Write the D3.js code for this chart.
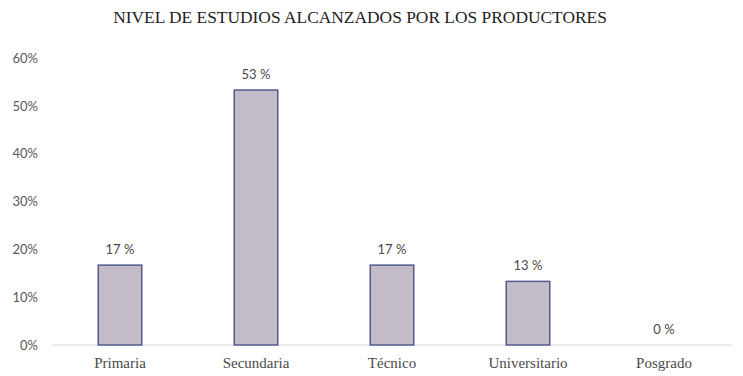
<!DOCTYPE html>
<html>
<head>
<meta charset="utf-8">
<script src="https://cdn.jsdelivr.net/npm/d3@7"></script>
<style>
  body { margin: 0; background: #fff; }
  svg { display: block; }
</style>
</head>
<body>
<div id="chart"></div>
<script>
// data
var categories = ['Primaria', 'Secundaria', 'Técnico', 'Universitario', 'Posgrado'];
var values = [16.7, 53.3, 16.7, 13.3, 0];
var valueLabels = ['17 %', '53 %', '17 %', '13 %', '0 %'];
var yTicks = [0, 10, 20, 30, 40, 50, 60];

var width = 743,
  height = 376;

var svg = d3
  .select('#chart')
  .append('svg')
  .attr('width', width)
  .attr('height', height);

var xscale = d3.scaleBand().domain(categories).range([52, 732]).paddingInner(0.68).paddingOuter(0.34);
var yscale = d3.scaleLinear().domain([0, 60]).range([345, 58]);

// title
svg
  .append('text')
  .attr('x', 360)
  .attr('y', 23)
  .attr('text-anchor', 'middle')
  .style('font-family', '"Liberation Serif", serif')
  .style('font-size', '17.4px')
  .attr('fill', '#222')
  .text('NIVEL DE ESTUDIOS ALCANZADOS POR LOS PRODUCTORES');

// y axis labels
var yaxis = svg
  .append('g')
  .attr('transform', 'translate(38,0)')
  .call(d3.axisLeft(yscale).tickValues(yTicks).tickSize(0).tickPadding(0).tickFormat((d) => d + '%'));
yaxis.select('.domain').remove();
yaxis
  .selectAll('text')
  .style('font-family', 'Lato, sans-serif')
  .style('font-size', '13px')
  .attr('fill', '#595959');

// baseline
svg
  .append('line')
  .attr('x1', 52)
  .attr('x2', 732)
  .attr('y1', yscale(0))
  .attr('y2', yscale(0))
  .attr('stroke', '#d9d9d9')
  .attr('stroke-width', 1.2);

// x axis labels
var xaxis = svg
  .append('g')
  .attr('transform', 'translate(0,' + yscale(0) + ')')
  .call(d3.axisBottom(xscale).tickSize(0).tickPadding(12));
xaxis.select('.domain').remove();
xaxis
  .selectAll('text')
  .style('font-family', '"Liberation Serif", serif')
  .style('font-size', '15px')
  .attr('fill', '#4a4a4a');

// bars
svg
  .selectAll('rect.bar')
  .data(values)
  .join('rect')
  .attr('class', 'bar')
  .attr('x', (d, i) => xscale(categories[i]))
  .attr('y', (d) => yscale(d))
  .attr('width', xscale.bandwidth())
  .attr('height', (d) => yscale(0) - yscale(d))
  .attr('fill', (d) => (d > 0 ? '#c3bbc8' : 'none'))
  .attr('stroke', (d) => (d > 0 ? '#4e5b8c' : 'none'))
  .attr('stroke-width', 1.5);

// value labels
svg
  .selectAll('text.lbl')
  .data(values)
  .join('text')
  .attr('class', 'lbl')
  .attr('x', (d, i) => xscale(categories[i]) + xscale.bandwidth() / 2)
  .attr('y', (d) => yscale(d) - 11)
  .attr('text-anchor', 'middle')
  .style('font-family', 'Lato, sans-serif')
  .style('font-size', '13px')
  .attr('fill', '#4a4a4a')
  .text((d, i) => valueLabels[i]);
</script>
</body>
</html>
